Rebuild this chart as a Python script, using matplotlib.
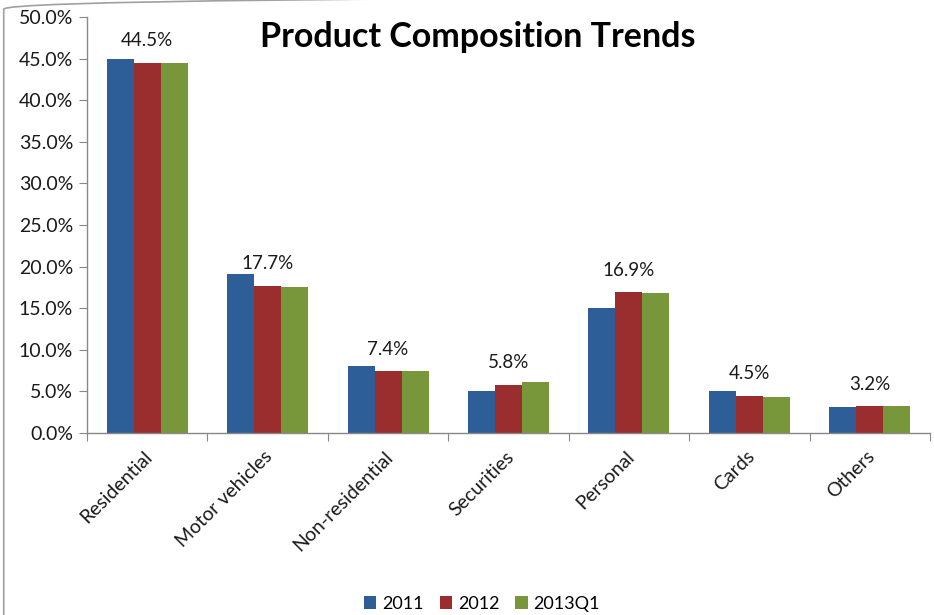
import numpy as np
import matplotlib
matplotlib.use('Agg')
import matplotlib.pyplot as plt
from matplotlib.patches import FancyBboxPatch
from matplotlib.ticker import FuncFormatter, MultipleLocator

# chart data (percent of total)
categories = ['Residential', 'Motor vehicles', 'Non-residential', 'Securities',
              'Personal', 'Cards', 'Others']
series_names = ['2011', '2012', '2013Q1']
values_2011 = [45.0, 19.1, 8.0, 5.0, 15.0, 5.0, 3.1]
values_2012 = [44.5, 17.7, 7.4, 5.8, 16.9, 4.5, 3.2]
values_2013q1 = [44.5, 17.6, 7.5, 6.1, 16.8, 4.3, 3.2]
colors = ['#2D5E98', '#9A2D2D', '#77973A']

plt.rcParams['font.family'] = ['Lato', 'DejaVu Sans']

fig = plt.figure(figsize=(9.34, 6.15), dpi=100)
ax = fig.add_axes([0.0931, 0.2959, 0.9026, 0.6764])

# chart border (rounded frame, only the left edge and top-left corner show)
frame = FancyBboxPatch((0.004, -0.2), 1.2, 1.205, boxstyle='round,pad=0,rounding_size=0.02',
                       transform=fig.transFigure, fill=False, edgecolor='#A0A0A0', linewidth=1.2)
fig.patches.append(frame)

x = np.arange(len(categories))
width = 0.224
all_series = [values_2011, values_2012, values_2013q1]
for i, (name, vals) in enumerate(zip(series_names, all_series)):
    ax.bar(x + (i - 1) * width, vals, width, color=colors[i], label=name, linewidth=0)

# data labels for the 2012 series
for xi, v in zip(x, values_2012):
    ax.annotate(f'{v:.1f}%', (xi, v), xytext=(0, 16), textcoords='offset points',
                ha='center', va='center', fontsize=13.5, color='#1a1a1a')

ax.set_xlim(-0.5, len(categories) - 0.5)
ax.set_ylim(0, 50)
ax.yaxis.set_major_locator(MultipleLocator(5))
ax.yaxis.set_major_formatter(FuncFormatter(lambda v, p: f'{v:.1f}%'))

# category boundary ticks on the x axis
ax.set_xticks(np.arange(-0.5, len(categories), 1.0))
ax.set_xticklabels([])
ax.tick_params(axis='x', which='major', length=6, color='#888888', direction='out')
ax.tick_params(axis='y', length=6, color='#888888', labelsize=14, pad=4, labelcolor='#1a1a1a')
for xi, cat in zip(x, categories):
    ax.text(xi + 0.02, -2.5, cat, rotation=45, ha='right', va='center', rotation_mode='anchor',
            fontsize=14, color='#1a1a1a')

for s in ['top', 'right']:
    ax.spines[s].set_visible(False)
for s in ['left', 'bottom']:
    ax.spines[s].set_color('#888888')
    ax.spines[s].set_linewidth(1.0)

fig.text(0.512, 0.94, 'Product Composition Trends', ha='center', va='center',
         fontsize=24.5, fontweight='bold', color='black')

fig.legend(loc='center', bbox_to_anchor=(0.516, 0.018), ncol=3, frameon=False, fontsize=13,
           handlelength=0.7, handleheight=0.7, handletextpad=0.3, columnspacing=0.9)

fig.savefig('out.png', dpi=100)
